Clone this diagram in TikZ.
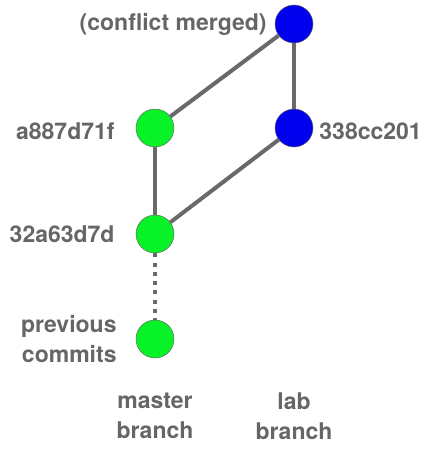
\documentclass[tikz,border=0pt]{standalone}
\usepackage{fontspec}
\setmainfont{TeX Gyre Heros}
\usetikzlibrary{positioning}
\definecolor{commitgreen}{RGB}{8,242,40}
\definecolor{commitblue}{RGB}{0,0,238}
\definecolor{textgray}{RGB}{102,102,102}
\definecolor{linegray}{RGB}{105,105,105}

\begin{document}
\begin{tikzpicture}[x=1pt,y=-1pt,node distance=106pt,
  commit/.style={circle,draw=black!60,line width=0.5pt,minimum size=38pt,inner sep=0pt},
  master/.style={commit,fill=commitgreen},
  lab/.style={commit,fill=commitblue},
  hash/.style={text=textgray,font=\bfseries\fontsize{23}{29.5}\selectfont,inner sep=0pt},
  link/.style={draw=linegray,line width=4pt}]

\useasboundingbox (0,0) rectangle (430,450);

\node[lab]    (merged) at (294,24) {};
\node[master] (a887)   at (155,128) {};
\node[lab]    (b338)   [right of=a887, node distance=139pt] {};
\node[master] (c32a)   [below of=a887] {};
\node[master] (prev)   [below of=c32a, node distance=105pt] {};

\node[hash,left=8pt of merged]             (lmerged) {(conflict merged)};
\node[hash,left=21pt of a887,yshift=-3pt]  (la887)   {a887d71f};
\node[hash,right=6pt of b338,yshift=-3pt]  (lb338)   {338cc201};
\node[hash,left=21pt of c32a]              (lc32a)   {32a63d7d};
\node[hash,left=19pt of prev,align=right]  (lprev)   {previous\\commits};
\node[hash,below=35pt of prev,align=center] (lmaster) {master\\branch};
\node[hash,align=center] (llab) at (lmaster -| b338) {lab\\branch};

\draw[link] (merged) -- (a887);
\draw[link] (merged) -- (b338);
\draw[link] (a887) -- (c32a);
\draw[link] (b338) -- (c32a);
\draw[link,dash pattern=on 4pt off 5.3pt] (c32a) -- (prev);
\end{tikzpicture}
\end{document}
